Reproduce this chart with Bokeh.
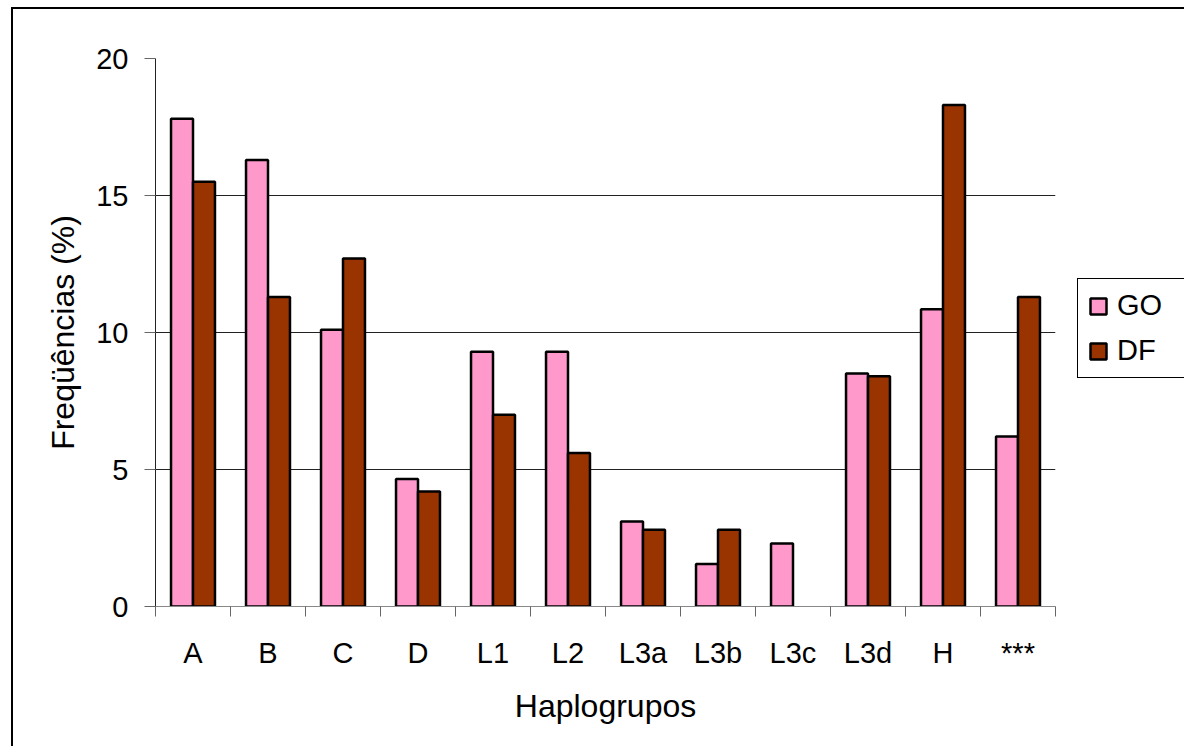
from bokeh.plotting import figure
from bokeh.models import (Range1d, FixedTicker, Legend, LegendItem,
                          ColumnDataSource, CDSView, BooleanFilter)
from bokeh.embed import file_html
from bokeh.resources import INLINE

# Haplogroup frequencies (%) for the two samples
categories = ["A", "B", "C", "D", "L1", "L2", "L3a", "L3b", "L3c", "L3d", "H", "***"]
go_values = [17.8, 16.3, 10.1, 4.65, 9.3, 9.3, 3.1, 1.55, 2.3, 8.5, 10.85, 6.2]
df_values = [15.5, 11.3, 12.7, 4.2, 7.0, 5.6, 2.8, 2.8, 0.0, 8.4, 18.3, 11.3]
y_ticks = [0, 5, 10, 15, 20]
grid_ticks = [5, 10, 15]

FONT = "Liberation Sans"
GO_COLOR = "#FF99CC"
DF_COLOR = "#993300"

bar_w = 0.293
idx = list(range(len(categories)))

src = ColumnDataSource(data=dict(
    go_x=[i - bar_w / 2 for i in idx],
    df_x=[i + bar_w / 2 for i in idx],
    go=go_values,
    df=df_values,
))

p = figure(
    frame_width=900, frame_height=548,
    x_range=Range1d(-0.5, len(categories) - 0.5),
    y_range=Range1d(0, 20),
    output_backend="svg", toolbar_location=None,
    min_border_left=142, min_border_top=49, min_border_bottom=140, min_border_right=129,
)
p.margin = (7, 0, 0, 11)
p.styles = {"border-left": "2px solid #000", "border-top": "2px solid #000",
            "border-right": "0px none", "border-bottom": "0px none"}
p.outline_line_color = None
p.background_fill_color = "white"
p.border_fill_color = "white"

# empty groups (value 0) draw no bar
r_go = p.vbar(x="go_x", top="go", width=bar_w, source=src,
              view=CDSView(filter=BooleanFilter([v > 0 for v in go_values])),
              fill_color=GO_COLOR, line_color="black", line_width=2.5)
r_df = p.vbar(x="df_x", top="df", width=bar_w, source=src,
              view=CDSView(filter=BooleanFilter([v > 0 for v in df_values])),
              fill_color=DF_COLOR, line_color="black", line_width=2.5)

# x axis: labels at group centres, tick marks at group boundaries
xa = p.xaxis[0]
xa.ticker = FixedTicker(ticks=idx, minor_ticks=[i - 0.5 for i in range(len(categories) + 1)])
xa.major_label_overrides = {i: c for i, c in zip(idx, categories)}
xa.major_tick_out = 0
xa.major_tick_in = 0
xa.minor_tick_out = 10
xa.minor_tick_in = 0
xa.minor_tick_line_color = "#666666"
xa.axis_line_color = "#888888"
xa.major_label_standoff = 20
xa.major_label_text_font = FONT
xa.major_label_text_font_size = "29px"
xa.major_label_text_color = "black"
xa.axis_label = "Haplogrupos"
xa.axis_label_text_font = FONT
xa.axis_label_text_font_size = "32px"
xa.axis_label_text_font_style = "normal"
xa.axis_label_text_color = "black"
xa.axis_label_standoff = 16

ya = p.yaxis[0]
ya.ticker = FixedTicker(ticks=y_ticks)
ya.minor_tick_line_color = None
ya.major_tick_out = 11
ya.major_tick_in = 0
ya.major_tick_line_color = "#666666"
ya.axis_line_color = "#222222"
ya.major_label_standoff = 16
ya.major_label_text_font = FONT
ya.major_label_text_font_size = "29px"
ya.major_label_text_color = "black"
ya.axis_label = "Freqüências (%)"
ya.axis_label_text_font = FONT
ya.axis_label_text_font_size = "32px"
ya.axis_label_text_font_style = "normal"
ya.axis_label_text_color = "black"
ya.axis_label_standoff = 12

p.xgrid.grid_line_color = None
p.ygrid.ticker = FixedTicker(ticks=grid_ticks)
p.ygrid.grid_line_color = "#222222"
p.ygrid.grid_line_width = 1

legend = Legend(
    items=[LegendItem(label="GO", renderers=[r_go]), LegendItem(label="DF", renderers=[r_df])],
    location=(22, 228),
    border_line_color="black", border_line_width=1.5, border_line_alpha=1.0,
    background_fill_alpha=1.0,
    label_text_font=FONT, label_text_font_size="29px", label_text_color="black",
    glyph_width=20, glyph_height=20, label_height=30, label_width=65,
    label_standoff=9, spacing=12, padding=10, margin=0,
)
p.add_layout(legend, "right")

open("out.html", "w").write(file_html(p, INLINE))
